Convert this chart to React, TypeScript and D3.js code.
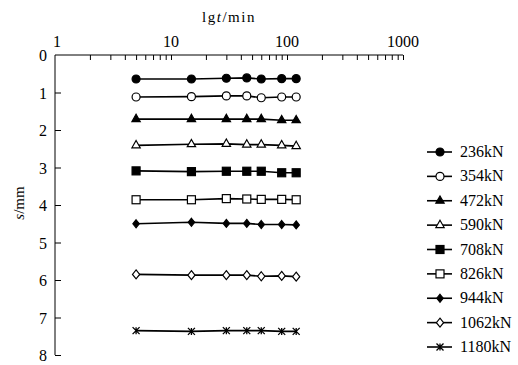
import React, { useEffect, useRef } from 'react';
import * as d3 from 'd3';

// time points (min)
const times = [5, 15, 30, 45, 60, 90, 120];
const loads = ['236kN', '354kN', '472kN', '590kN', '708kN', '826kN', '944kN', '1062kN', '1180kN'];
// settlement s/mm per load level
const s236 = [0.64, 0.64, 0.62, 0.61, 0.64, 0.63, 0.63];
const s354 = [1.12, 1.11, 1.09, 1.09, 1.14, 1.12, 1.12];
const s472 = [1.71, 1.71, 1.71, 1.71, 1.71, 1.74, 1.74];
const s590 = [2.41, 2.38, 2.37, 2.39, 2.39, 2.41, 2.43];
const s708 = [3.09, 3.11, 3.1, 3.1, 3.1, 3.14, 3.14];
const s826 = [3.86, 3.86, 3.83, 3.84, 3.85, 3.85, 3.86];
const s944 = [4.5, 4.46, 4.49, 4.49, 4.52, 4.52, 4.53];
const s1062 = [5.85, 5.87, 5.87, 5.87, 5.9, 5.89, 5.91];
const s1180 = [7.35, 7.37, 7.35, 7.35, 7.35, 7.37, 7.37];
const series = [s236, s354, s472, s590, s708, s826, s944, s1062, s1180];
const markers = ['circle', 'circleOpen', 'triangle', 'triangleOpen', 'square', 'squareOpen', 'diamond', 'diamondOpen', 'star'];
const xTicks = [1, 10, 100, 1000];
const yTicks = [0, 1, 2, 3, 4, 5, 6, 7, 8];

const FONT = "'Liberation Serif', 'DejaVu Serif', serif";

function drawMarker(g: any, type: string, x: number, y: number) {
  const open = type.endsWith('Open');
  const fill = open ? '#fff' : '#000';
  const base = type.replace('Open', '');
  if (base === 'circle') {
    g.append('circle').attr('cx', x).attr('cy', y).attr('r', 4)
      .attr('fill', fill).attr('stroke', '#000').attr('stroke-width', 1.2);
  } else if (base === 'triangle') {
    g.append('path').attr('d', d3.symbol(d3.symbolTriangle, 30)())
      .attr('transform', `translate(${x},${y})`)
      .attr('fill', fill).attr('stroke', '#000').attr('stroke-width', 1.2);
  } else if (base === 'square') {
    g.append('rect').attr('x', x - 4).attr('y', y - 4).attr('width', 8).attr('height', 8)
      .attr('fill', fill).attr('stroke', '#000').attr('stroke-width', 1.2);
  } else if (base === 'diamond') {
    const r = open ? 4.5 : 4;
    g.append('path').attr('d', `M${x},${y - r}L${x + r * 0.8},${y}L${x},${y + r}L${x - r * 0.8},${y}Z`)
      .attr('fill', fill).attr('stroke', '#000').attr('stroke-width', 1.2);
  } else {
    const r = 3.5;
    g.append('path')
      .attr('d', `M${x - r},${y - r}L${x + r},${y + r}M${x - r},${y + r}L${x + r},${y - r}M${x},${y - r}L${x},${y + r}`)
      .attr('stroke', '#000').attr('stroke-width', 1.3).attr('fill', 'none');
  }
}

function App() {
  const ref = useRef<SVGSVGElement>(null);

  useEffect(() => {
    const svg = d3.select(ref.current);
    svg.selectAll('*').remove();

    const x = d3.scaleLog().domain([1, 1000]).range([55, 403]);
    const y = d3.scaleLinear().domain([0, 8]).range([55, 355]);

    // top axis
    const minor: number[] = [];
    [1, 10, 100].forEach(d => { for (let k = 2; k <= 10; k++) minor.push(d * k); });
    const top = svg.append('g').attr('transform', 'translate(0,55)');
    top.call(d3.axisTop(x).tickValues(minor).tickSize(-5).tickFormat(() => ''));
    top.select('.domain').attr('d', `M${x(1)},0H${x(1000)}`);
    top.selectAll('line, path').attr('stroke', '#000').attr('stroke-width', 1);
    svg.selectAll('.xl').data(xTicks).enter().append('text')
      .attr('x', d => x(d) + (d === 1 ? 2 : 0)).attr('y', 47)
      .attr('text-anchor', 'middle').style('font-family', FONT).style('font-size', '16px')
      .text(d => d);

    // left axis
    const left = svg.append('g').attr('transform', 'translate(55,0)');
    left.call(d3.axisLeft(y).tickValues(yTicks.slice(1)).tickSize(-6).tickFormat(() => ''));
    left.select('.domain').attr('d', `M0,${y(0)}V${y(8)}`);
    left.selectAll('line, path').attr('stroke', '#000').attr('stroke-width', 1);
    svg.selectAll('.yl').data(yTicks).enter().append('text')
      .attr('x', 47).attr('y', d => y(d) + 6)
      .attr('text-anchor', 'end').style('font-family', FONT).style('font-size', '16px')
      .text(d => d);

    // axis titles
    const xt = svg.append('text').attr('x', 229).attr('y', 22).attr('text-anchor', 'middle')
      .style('font-family', FONT).style('font-size', '15px').style('letter-spacing', '1.5px');
    xt.append('tspan').text('lg');
    xt.append('tspan').style('font-style', 'italic').text('t');
    xt.append('tspan').text('/min');
    const yt = svg.append('text').attr('transform', 'translate(24,203) rotate(-90)').attr('text-anchor', 'middle')
      .style('font-family', FONT).style('font-size', '15px');
    yt.append('tspan').style('font-style', 'italic').text('s');
    yt.append('tspan').text('/mm');

    const line = d3.line<number>().x((_, i) => x(times[i])).y(d => y(d));

    series.forEach((vals, si) => {
      const g = svg.append('g');
      g.append('path').attr('d', line(vals)).attr('fill', 'none')
        .attr('stroke', '#000').attr('stroke-width', 1.6);
      vals.forEach((v, i) => drawMarker(g, markers[si], x(times[i]), y(v)));
    });

    // legend
    const ly = d3.scalePoint().domain(loads).range([152, 347]);
    loads.forEach((name, i) => {
      const g = svg.append('g');
      const yy = ly(name) as number;
      g.append('line').attr('x1', 427).attr('x2', 452).attr('y1', yy).attr('y2', yy)
        .attr('stroke', '#000').attr('stroke-width', 1.6);
      drawMarker(g, markers[i], 440, yy);
      g.append('text').attr('x', 460).attr('y', yy + 5).style('font-family', FONT)
        .style('font-size', '16px').text(name);
    });
  }, []);

  return <svg ref={ref} width={518} height={365} style={{ position: 'absolute', left: 0, top: 0 }} />;
}

export default App;
